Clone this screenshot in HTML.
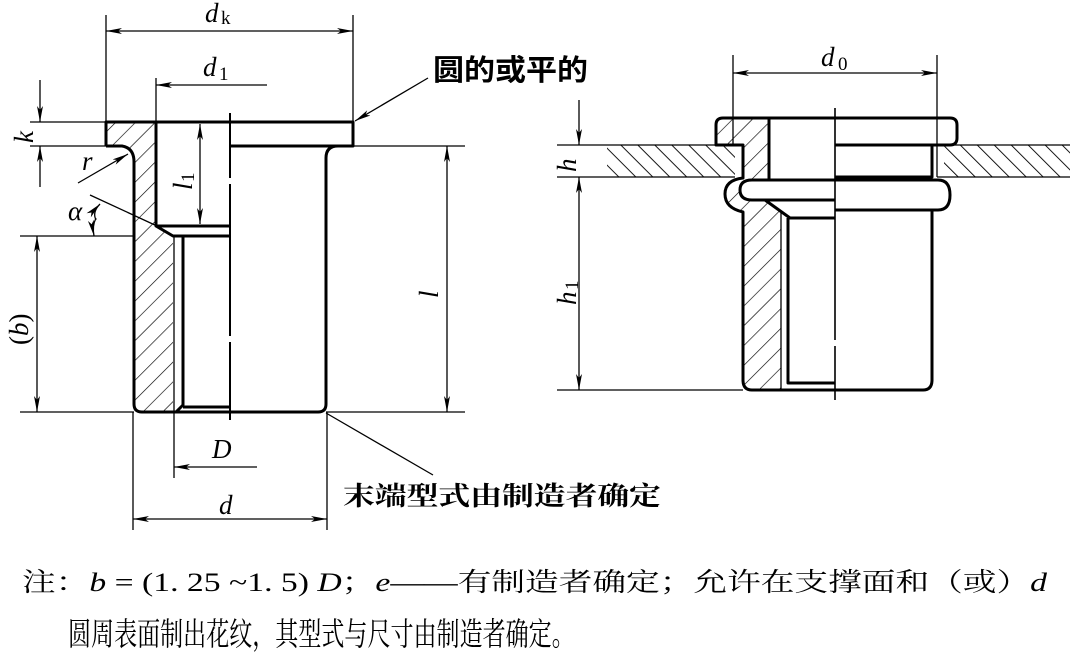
<!DOCTYPE html>
<html><head><meta charset="utf-8"><style>
html,body{margin:0;padding:0;background:#fff;}
svg{display:block;}
.t{stroke:#000;stroke-width:3;fill:none;stroke-linejoin:round}
.n{stroke:#000;stroke-width:1.3;fill:none}
.v{font-family:"Liberation Serif",serif;font-style:italic;font-size:27px;fill:#000}
.s{font-family:"Liberation Serif",serif;font-size:19px;fill:#000}
.cj{font-family:"Liberation Serif","Noto Serif CJK SC",serif;fill:#000}
.cs{font-family:"Liberation Sans","Noto Sans CJK SC",sans-serif;fill:#000}
</style></head><body>
<svg width="1070" height="653" viewBox="0 0 1070 653" xmlns="http://www.w3.org/2000/svg">
<defs>
<marker id="a" viewBox="0 0 16 6" refX="16" refY="3" markerWidth="16" markerHeight="6" markerUnits="userSpaceOnUse" orient="auto-start-reverse">
<path d="M0,0 L16,3 L0,6 L4,3 Z" fill="#000"/></marker>
<pattern id="h1" width="14" height="14" patternUnits="userSpaceOnUse" patternTransform="rotate(45)">
<line x1="0" y1="0" x2="0" y2="14" stroke="#000" stroke-width="1.3"/></pattern>
<pattern id="h2" width="12" height="12" patternUnits="userSpaceOnUse" patternTransform="rotate(-45)">
<line x1="0" y1="0" x2="0" y2="12" stroke="#000" stroke-width="1.8"/></pattern>
</defs>

<path d="M106,122 H156 V226 L173,236 V412 H142 Q134,412 134,404 V162 Q134,148 122,146 H106 Z" fill="url(#h1)"/>
<path class="t" d="M106,146 V122 H353 V146 H338 Q326,146 326,158 V404 Q326,412 318,412 H142 Q134,412 134,404 V162 Q134,148 122,146 H106"/>
<path class="t" d="M156,122 V226 H230 M156,226 L173,236 H230 M183,236 V405 L176,412 M183,407 H230 M230,146 H338"/>
<path class="n" d="M174,236 V412"/>
<path d="M230,113 V178 M230,184 V336 M230,342 V420" stroke="#000" stroke-width="2"/>
<path class="n" d="M106,15 V122 M353,15 V122"/>
<path class="n" d="M106,31 H353" marker-start="url(#a)" marker-end="url(#a)"/>
<text class="v" x="205" y="22">d</text><text class="s" x="221" y="24">k</text>
<path class="n" d="M156,78 V122"/>
<path class="n" d="M267,85 H156" marker-end="url(#a)"/>
<text class="v" x="203" y="76">d</text><text class="s" x="219" y="80">1</text>
<path class="n" d="M428,78 L355,121" marker-end="url(#a)"/>
<text class="cs" x="433" y="80" font-size="29" font-weight="bold" textLength="155" lengthAdjust="spacingAndGlyphs">圆的或平的</text>
<path class="n" d="M30,122 H106 M30,146 H106"/>
<path class="n" d="M40,80 V122" marker-end="url(#a)"/>
<path class="n" d="M40,187 V146" marker-end="url(#a)"/>
<text class="v" transform="translate(33,143) rotate(-90)">k</text>
<path class="n" d="M78,183 L128,154" marker-end="url(#a)"/>
<text class="v" x="82" y="170" font-size="24">r</text>
<path class="n" d="M90,195 L157,226"/>
<path class="n" d="M96,220 Q92,212 100,204" marker-end="url(#a)"/>
<path class="n" d="M96,218 Q92,226 94,236" marker-end="url(#a)"/>
<text class="v" x="68" y="220">α</text>
<path class="n" d="M20,236 H134 M20,412 H134"/>
<path class="n" d="M37,236 V412" marker-start="url(#a)" marker-end="url(#a)"/>
<text class="v" transform="translate(28,345) rotate(-90)" style="font-style:normal">(<tspan font-style="italic">b</tspan>)</text>
<path class="n" d="M326,146 H465 M326,412 H465"/>
<path class="n" d="M447,146 V412" marker-start="url(#a)" marker-end="url(#a)"/>
<text class="v" transform="translate(438,298) rotate(-90)">l</text>
<path class="n" d="M200,124 V224" marker-start="url(#a)" marker-end="url(#a)"/>
<text class="v" transform="translate(192,190) rotate(-90)">l</text><text class="s" transform="translate(194,182) rotate(-90)">1</text>
<path class="n" d="M174,412 V478"/>
<path class="n" d="M257,467 H174" marker-end="url(#a)"/>
<text class="v" x="212" y="458">D</text>
<path class="n" d="M133,412 V530 M327,412 V530"/>
<path class="n" d="M133,519 H327" marker-start="url(#a)" marker-end="url(#a)"/>
<text class="v" x="219" y="514">d</text>
<path class="n" d="M326,413 L433,475"/>
<text class="cj" x="343" y="505" font-size="26" font-weight="bold" textLength="318" lengthAdjust="spacingAndGlyphs">末端型式由制造者确定</text>

<rect x="607" y="145" width="128" height="32" fill="url(#h2)"/>
<rect x="944" y="145" width="126" height="32" fill="url(#h2)"/>
<path class="n" d="M557,145 H735 M557,177 H735 M937,145 H1070 M937,177 H1070" stroke-width="1.8"/>
<path d="M722,118 H769 V205 L781,213 V390 H752 Q743,390 743,380 V212 Q725,208 725,194 Q725,180 743,178 V145 H716 V124 Q716,118 722,118 Z" fill="url(#h1)"/>
<path d="M752,180 H800 V200 H752 Q740,200 740,190 Q740,180 752,180Z" fill="#fff"/>
<path class="t" d="M737,145 H716 V125 Q716,118 723,118 H950 Q957,118 957,125 V138 Q957,145 950,145 H835 M735,145 H743 V178 Q725,180 725,194 Q725,208 743,212 V380 Q743,390 752,390 H923 Q932,390 932,380 V210"/>
<path class="t" d="M769,118 V180 M752,180 H835 M752,200 H835 M752,180 Q740,180 740,190 Q740,200 752,200"/>
<path class="t" d="M765,200 L790,218 H835 M788,218 V383 H835"/>
<path class="n" d="M781,213 V390"/>
<path class="t" d="M932,145 V177 H835 M835,180 H938 Q950,180 950,195 Q950,210 938,210 H835"/>
<path class="n" d="M937,145 V177"/>
<path d="M835,108 V340 M835,346 V400" stroke="#000" stroke-width="1.6"/>
<path class="n" d="M733,55 V145 M937,55 V145"/>
<path class="n" d="M733,73 H937" marker-start="url(#a)" marker-end="url(#a)"/>
<text class="v" x="821" y="66">d</text><text class="s" x="838" y="70">0</text>
<path class="n" d="M557,390 H743"/>
<path class="n" d="M579,100 V145" marker-end="url(#a)"/>
<path class="n" d="M579,177 V390" marker-start="url(#a)" marker-end="url(#a)"/>
<text class="v" transform="translate(576,172) rotate(-90)">h</text>
<text class="v" transform="translate(576,305) rotate(-90)">h</text><text class="s" transform="translate(578,290) rotate(-90)">1</text>

<text class="cj" x="22" y="591" font-size="26" textLength="1025" lengthAdjust="spacingAndGlyphs">注：<tspan font-style="italic">b</tspan> = (1. 25 ~1. 5) <tspan font-style="italic">D</tspan>；<tspan font-style="italic">e</tspan>——有制造者确定；允许在支撑面和（或）<tspan font-style="italic">d</tspan></text>
<text class="cj" transform="translate(68,645) scale(0.72,1)" font-size="32">圆周表面制出花纹，其型式与尺寸由制造者确定。</text>
</svg>
</body></html>
